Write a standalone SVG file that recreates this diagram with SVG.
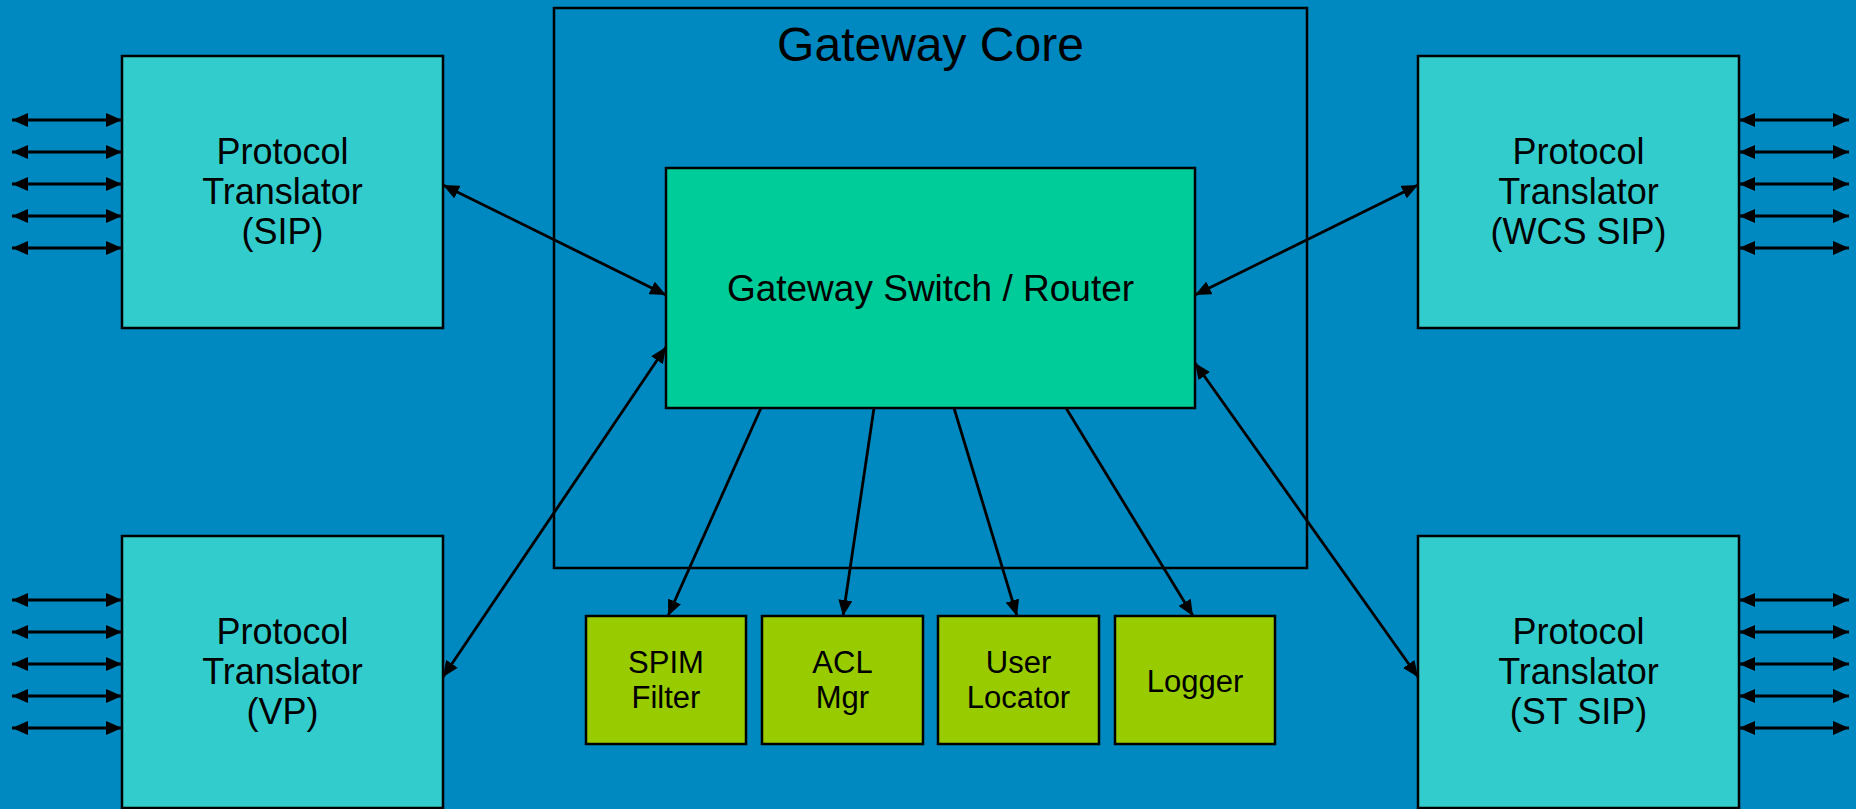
<svg xmlns="http://www.w3.org/2000/svg" width="1856" height="809" viewBox="0 0 1856 809">
<style>
  .box { stroke: #000; stroke-width: 2.5; }
  .pt { fill: #33CCCC; }
  .sw { fill: #00CC99; }
  .sm { fill: #99CC00; }
  .core { fill: none; stroke: #000; stroke-width: 2.5; }
  text { font-family: "Liberation Sans", Arial, sans-serif; fill: #000; text-anchor: middle; }
  .t36 { font-size: 36px; }
  .t37 { font-size: 37px; }
  .t31 { font-size: 31px; }
  .t48 { font-size: 48px; }
  .ln { stroke: #000; stroke-width: 2.8; fill: none; }
  .bi { marker-start: url(#ah); marker-end: url(#ah); }
  .uni { marker-end: url(#ah); }
</style>
<defs>
  <marker id="ah" viewBox="0 0 16 14" refX="16" refY="7" markerWidth="16" markerHeight="14" markerUnits="userSpaceOnUse" orient="auto-start-reverse">
    <path d="M0,0 L16,7 L0,14 Z" fill="#000"/>
  </marker>
</defs>
<rect x="0" y="0" width="1856" height="809" fill="#0088C0"/>

<g id="gateway-core">
  <rect class="core" x="554" y="8" width="753" height="560"/>
  <text class="t48" x="930.5" y="61">Gateway Core</text>
</g>

<g id="switch">
  <rect class="box sw" x="666" y="168" width="529" height="240"/>
  <text class="t37" x="930.5" y="301">Gateway Switch / Router</text>
</g>

<g id="pt-sip">
  <rect class="box pt" x="122" y="56" width="321" height="272"/>
  <text class="t36" x="282.5" y="164">Protocol</text>
  <text class="t36" x="282.5" y="204">Translator</text>
  <text class="t36" x="282.5" y="244">(SIP)</text>
</g>

<g id="pt-vp">
  <rect class="box pt" x="122" y="536" width="321" height="272"/>
  <text class="t36" x="282.5" y="644">Protocol</text>
  <text class="t36" x="282.5" y="684">Translator</text>
  <text class="t36" x="282.5" y="724">(VP)</text>
</g>

<g id="pt-wcs">
  <rect class="box pt" x="1418" y="56" width="321" height="272"/>
  <text class="t36" x="1578.5" y="164">Protocol</text>
  <text class="t36" x="1578.5" y="204">Translator</text>
  <text class="t36" x="1578.5" y="244">(WCS SIP)</text>
</g>

<g id="pt-st">
  <rect class="box pt" x="1418" y="536" width="321" height="272"/>
  <text class="t36" x="1578.5" y="644">Protocol</text>
  <text class="t36" x="1578.5" y="684">Translator</text>
  <text class="t36" x="1578.5" y="724">(ST SIP)</text>
</g>

<g id="spim">
  <rect class="box sm" x="586" y="616" width="160" height="128"/>
  <text class="t31" x="666" y="673">SPIM</text>
  <text class="t31" x="666" y="708">Filter</text>
</g>

<g id="acl">
  <rect class="box sm" x="762" y="616" width="161" height="128"/>
  <text class="t31" x="842.5" y="673">ACL</text>
  <text class="t31" x="842.5" y="708">Mgr</text>
</g>

<g id="locator">
  <rect class="box sm" x="938" y="616" width="161" height="128"/>
  <text class="t31" x="1018.5" y="673">User</text>
  <text class="t31" x="1018.5" y="708">Locator</text>
</g>

<g id="logger">
  <rect class="box sm" x="1115" y="616" width="160" height="128"/>
  <text class="t31" x="1195" y="692">Logger</text>
</g>

<g id="connectors">
  <line class="ln bi" x1="443" y1="185" x2="666" y2="295"/>
  <line class="ln bi" x1="443" y1="677" x2="666" y2="347"/>
  <line class="ln bi" x1="1418" y1="185" x2="1195" y2="295"/>
  <line class="ln bi" x1="1418" y1="677" x2="1195" y2="363"/>
  <line class="ln uni" x1="761" y1="408" x2="668" y2="616"/>
  <line class="ln uni" x1="874" y1="408" x2="843" y2="616"/>
  <line class="ln uni" x1="954" y1="408" x2="1017" y2="616"/>
  <line class="ln uni" x1="1066" y1="408" x2="1193" y2="616"/>
  <line class="ln bi" x1="12" y1="120" x2="122" y2="120"/>
  <line class="ln bi" x1="12" y1="152" x2="122" y2="152"/>
  <line class="ln bi" x1="12" y1="184" x2="122" y2="184"/>
  <line class="ln bi" x1="12" y1="216" x2="122" y2="216"/>
  <line class="ln bi" x1="12" y1="248" x2="122" y2="248"/>
  <line class="ln bi" x1="12" y1="600" x2="122" y2="600"/>
  <line class="ln bi" x1="12" y1="632" x2="122" y2="632"/>
  <line class="ln bi" x1="12" y1="664" x2="122" y2="664"/>
  <line class="ln bi" x1="12" y1="696" x2="122" y2="696"/>
  <line class="ln bi" x1="12" y1="728" x2="122" y2="728"/>
  <line class="ln bi" x1="1739" y1="120" x2="1849" y2="120"/>
  <line class="ln bi" x1="1739" y1="152" x2="1849" y2="152"/>
  <line class="ln bi" x1="1739" y1="184" x2="1849" y2="184"/>
  <line class="ln bi" x1="1739" y1="216" x2="1849" y2="216"/>
  <line class="ln bi" x1="1739" y1="248" x2="1849" y2="248"/>
  <line class="ln bi" x1="1739" y1="600" x2="1849" y2="600"/>
  <line class="ln bi" x1="1739" y1="632" x2="1849" y2="632"/>
  <line class="ln bi" x1="1739" y1="664" x2="1849" y2="664"/>
  <line class="ln bi" x1="1739" y1="696" x2="1849" y2="696"/>
  <line class="ln bi" x1="1739" y1="728" x2="1849" y2="728"/>
</g>
</svg>
